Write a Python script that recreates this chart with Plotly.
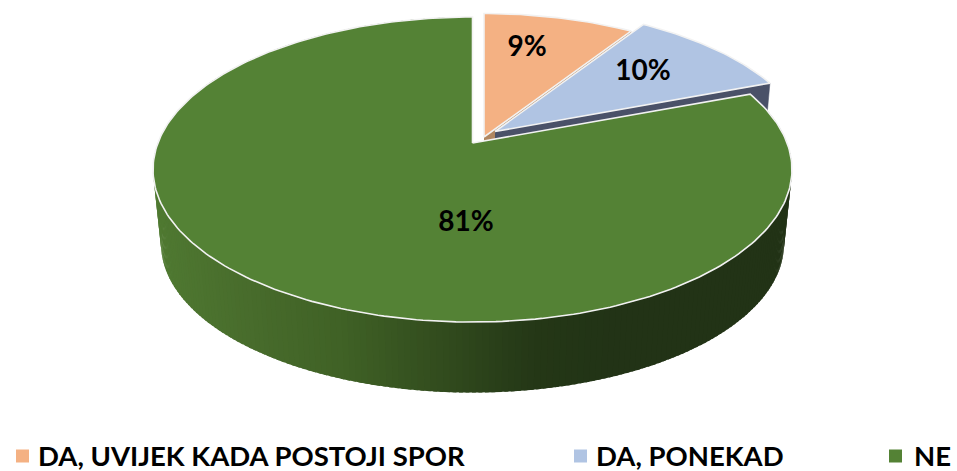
import numpy as np
import plotly.graph_objects as go

categories = ["DA, UVIJEK KADA POSTOJI SPOR", "DA, PONEKAD", "NE"]
values = [9.2, 10.1, 80.7]
colors = ["#F4B183", "#B0C4E3", "#548235"]
wall_colors = ["#B08660", "#4A5168", "#548235"]

# layout constants (pixels in a 957x471 canvas)
W, H = 957, 471
apexes = [(484.0, 137.0), (495.0, 131.5), (472.5, 143.0)]
scales = [0.98, 0.99, 1.0]
A, B, K = 147.9, 314.6, 0.174
DEPTH, SHRINK = 75.0, 0.975
label_pos = [(527, 49), (643, 73), (466, 224)]
legend_marker_x = [22.5, 580.5, 895.5]
legend_text_x = [38, 596, 914]
legend_y = 459
legend_marker_y = 456
shade_x = [155, 250, 340, 440, 530, 600, 790]
shade_r = [80, 72, 64, 50, 37, 34, 34]
shade_g = [122, 108, 98, 76, 56, 52, 51]
shade_b = [50, 44, 38, 30, 23, 22, 22]


def project(theta_deg, apex, scale=1.0, lower=False):
    th = np.radians(np.asarray(theta_deg, dtype=float))
    u, v = np.sin(th), -np.cos(th)
    f = SHRINK if lower else 1.0
    d = DEPTH if lower else 0.0
    x = apex[0] + scale * f * B * u / (1 - K * v)
    y = apex[1] + d + scale * f * A * v / (1 - K * v)
    return x, y


edges = np.concatenate([[0], np.cumsum(values)]) * 3.6
fig = go.Figure()


def poly(x, y, fill, line=None, width=0, name=None):
    fig.add_trace(go.Scatter(
        x=list(x), y=list(y), mode="lines", fill="toself", fillcolor=fill,
        line=dict(color=line or fill, width=width), hoverinfo="skip",
        showlegend=False, name=name))


def wall(i, theta):
    ap = apexes[i]
    s = scales[i]
    x1, y1 = project(theta, ap, s)
    x2, y2 = project(theta, ap, s, lower=True)
    poly([ap[0], x1, x2, ap[0]], [ap[1], y1, y2, ap[1] + DEPTH], wall_colors[i], width=0.5)


def top(i):
    ap = apexes[i]
    s = scales[i]
    th = np.arange(edges[i], edges[i + 1] + 0.01, 1.0)
    th[-1] = edges[i + 1]
    x, y = project(th, ap, s)
    poly(np.r_[ap[0], x, ap[0]], np.r_[ap[1], y, ap[1]], colors[i], line="#F2F2F2", width=1.6,
         name=categories[i])


# peach slice
wall(0, edges[1])
top(0)
# blue slice
wall(1, edges[2])
top(1)
# green outer rim, graded left to right
ap = apexes[2]
ths = np.arange(edges[2], 360.01, 1.0)
for a, b in zip(ths[:-1], ths[1:]):
    xa, ya = project(a, ap)
    xb, yb = project(b + 0.6, ap)
    xc, yc = project(b + 0.6, ap, lower=True)
    xd, yd = project(a, ap, lower=True)
    xm = (xa + xb + xc + xd) / 4
    c = "rgb(%d,%d,%d)" % (np.interp(xm, shade_x, shade_r), np.interp(xm, shade_x, shade_g),
                           np.interp(xm, shade_x, shade_b))
    poly([xa, xb, xc, xd, xa], [ya, yb, yc, yd, ya], c, width=0)
top(2)

# percentage labels
for v, (lx, ly) in zip(values, label_pos):
    fig.add_trace(go.Scatter(
        x=[lx], y=[ly], mode="text", text=[f"<b>{round(v)}%</b>"], textposition="middle center",
        textfont=dict(family="Lato", size=28, color="#000000"), hoverinfo="skip", showlegend=False))

# legend row
for cat, col, mx, tx in zip(categories, colors, legend_marker_x, legend_text_x):
    fig.add_trace(go.Scatter(
        x=[mx], y=[legend_marker_y], mode="markers", marker=dict(symbol="square", size=13, color=col, line=dict(width=0)),
        hoverinfo="skip", showlegend=False))
    fig.add_trace(go.Scatter(
        x=[tx], y=[legend_y], mode="text", text=[f"<b>{cat}</b>"], textposition="middle right",
        textfont=dict(family="Lato", size=27.5, color="#000000"), hoverinfo="skip", showlegend=False))

fig.update_layout(
    width=W, height=H, margin=dict(l=0, r=0, t=0, b=0),
    paper_bgcolor="#FFFFFF", plot_bgcolor="#FFFFFF", showlegend=False,
    xaxis=dict(range=[0, W], visible=False, fixedrange=True),
    yaxis=dict(range=[H, 0], visible=False, fixedrange=True),
)
fig.write_html("out.html", config={"displayModeBar": False},
               post_script="document.body.style.margin='0';document.documentElement.style.overflow='hidden';")
